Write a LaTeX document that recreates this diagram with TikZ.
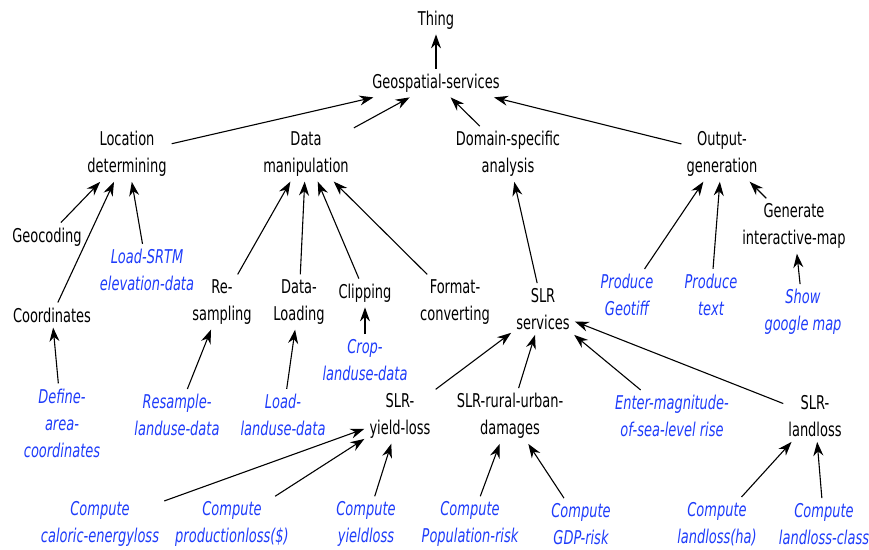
\documentclass[tikz,border=0pt]{standalone}
\usepackage{fontspec}
\setmainfont[FakeStretch=0.76]{DejaVu Sans Condensed}
\usepackage{tikz}
\usetikzlibrary{arrows.meta}
\definecolor{taskblue}{RGB}{30,60,250}

\begin{document}
\begin{tikzpicture}[x=1pt,y=-1pt,
    cls/.style={align=center,inner sep=5pt,font=\fontsize{19}{27}\selectfont},
    task/.style={cls,text=taskblue,font=\fontsize{19}{27}\selectfont\itshape},
    arr/.style={line width=1.1pt,-{Stealth[length=14pt,width=10pt]}}]
    \useasboundingbox (0,0) rectangle (869,549);

    \node[cls] (T) at (436,20) {Thing};
    \node[cls] (G) at (436,83) {Geospatial-services};

    \node[cls] (L) at (127,154) {Location\\determining};
    \node[cls] (M) at (306,154) {Data\\manipulation};
    \node[cls] (D) at (508,154) {Domain-specific\\analysis};
    \node[cls] (O) at (722,154) {Output-\\generation};

    \node[cls] (L1) at (47,237) {Geocoding};
    \node[task] (L2) at (147,270) {Load-SRTM\\elevation-data};
    \node[cls] (L3) at (52,315) {Coordinates};
    \node[task] (L4) at (62,423) {Define-\\area-\\coordinates};

    \node[cls] (M1) at (222,302) {Re-\\sampling};
    \node[cls] (M2) at (299,302) {Data-\\Loading};
    \node[cls] (M3) at (365,293) {Clipping};
    \node[cls] (M4) at (455,302) {Format-\\converting};
    \node[task] (M5) at (177,415) {Resample-\\landuse-data};
    \node[task] (M6) at (283,415) {Load-\\landuse-data};
    \node[task] (M7) at (365,360) {Crop-\\landuse-data};

    \node[cls] (S) at (543,309) {SLR\\services};
    \node[cls] (S1) at (400,416) {SLR-\\yield-loss};
    \node[cls] (S2) at (510,416) {SLR-rural-urban-\\damages};
    \node[task] (S3) at (672,416) {Enter-magnitude-\\of-sea-level rise};
    \node[cls] (S4) at (815,416) {SLR-\\landloss};

    \node[task] (C1) at (100,524) {Compute\\caloric-energyloss};
    \node[task] (C2) at (232,524) {Compute\\productionloss(\$)};
    \node[task] (C3) at (366,524) {Compute\\yieldloss};
    \node[task] (C4) at (470,524) {Compute\\Population-risk};
    \node[task] (C5) at (581,524) {Compute\\GDP-risk};
    \node[task] (C6) at (717,524) {Compute\\landloss(ha)};
    \node[task] (C7) at (824,524) {Compute\\landloss-class};

    \node[task] (O1) at (627,295) {Produce\\Geotiff};
    \node[task] (O2) at (711,295) {Produce\\text};
    \node[cls] (O3) at (794,226) {Generate\\interactive-map};
    \node[task] (O4) at (803,312) {Show\\google map};

    \foreach \a/\b in {G/T, L/G, M/G, D/G, O/G,
        L1/L, L2/L, L3/L, L4/L3,
        M1/M, M2/M, M3/M, M4/M, M5/M1, M6/M2, M7/M3,
        S/D, S1/S, S2/S, S3/S, S4/S,
        C1/S1, C2/S1, C3/S1, C4/S2, C5/S2, C6/S4, C7/S4,
        O1/O, O2/O, O3/O, O4/O3}
        \draw[arr] (\a) -- (\b);
\end{tikzpicture}
\end{document}
